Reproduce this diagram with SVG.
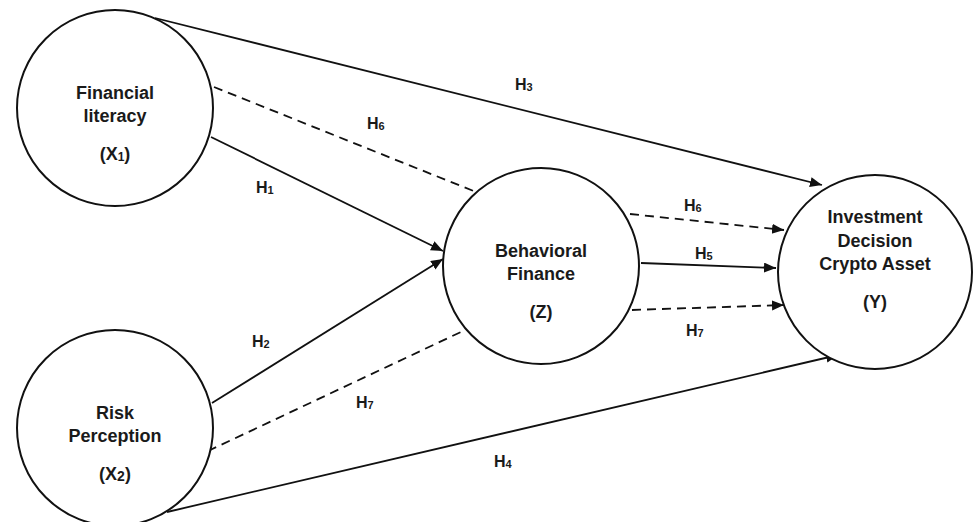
<svg xmlns="http://www.w3.org/2000/svg" width="974" height="522" viewBox="0 0 974 522">
<style>
.node{fill:#fff;stroke:#111;stroke-width:2}
.t{font-family:"Liberation Sans",Arial,sans-serif;font-weight:bold;font-size:18px;fill:#1a1a1a;text-anchor:middle}
.lbl{font-family:"Liberation Sans",Arial,sans-serif;font-weight:bold;font-size:16px;fill:#1a1a1a}
.sub{font-size:11px}
.c{stroke:#111;stroke-width:1.8;fill:none}
.d{stroke-dasharray:9 6}
</style>
<defs>
<marker id="ah" markerUnits="userSpaceOnUse" markerWidth="14" markerHeight="12" refX="12" refY="5" orient="auto">
<path d="M0,0 L12,5 L0,10 Z" fill="#111"/>
</marker>
</defs>
<g id="connectors">
<line class="c" x1="155" y1="18" x2="822" y2="185" marker-end="url(#ah)"/>
<line class="c d" x1="214" y1="87" x2="476" y2="192"/>
<line class="c" x1="211" y1="137" x2="443" y2="251" marker-end="url(#ah)"/>
<line class="c" x1="212" y1="403" x2="443" y2="259" marker-end="url(#ah)"/>
<line class="c d" x1="208" y1="451" x2="463" y2="331"/>
<line class="c" x1="167" y1="512" x2="838" y2="355" marker-end="url(#ah)"/>
<line class="c d" x1="630" y1="214" x2="784" y2="230" marker-end="url(#ah)"/>
<line class="c" x1="641" y1="263" x2="776" y2="268" marker-end="url(#ah)"/>
<line class="c d" x1="632" y1="310" x2="784" y2="305" marker-end="url(#ah)"/>
</g>
<g id="labels">
<text class="lbl" x="515" y="90">H<tspan class="sub" dy="1">3</tspan></text>
<text class="lbl" x="367" y="129">H<tspan class="sub" dy="1">6</tspan></text>
<text class="lbl" x="256" y="193">H<tspan class="sub" dy="1">1</tspan></text>
<text class="lbl" x="252" y="347">H<tspan class="sub" dy="1">2</tspan></text>
<text class="lbl" x="356" y="408">H<tspan class="sub" dy="1">7</tspan></text>
<text class="lbl" x="494" y="467">H<tspan class="sub" dy="1">4</tspan></text>
<text class="lbl" x="684" y="211">H<tspan class="sub" dy="1">6</tspan></text>
<text class="lbl" x="695" y="259">H<tspan class="sub" dy="1">5</tspan></text>
<text class="lbl" x="686" y="336">H<tspan class="sub" dy="1">7</tspan></text>
</g>
<g id="node-x1">
<circle class="node" cx="115" cy="108" r="98"/>
<text class="t" x="115" y="99">Financial</text>
<text class="t" x="115" y="122">literacy</text>
<text class="t" x="115" y="160">(X<tspan font-size="12" dy="1">1</tspan><tspan dy="-1">)</tspan></text>
</g>
<g id="node-x2">
<circle class="node" cx="115" cy="428" r="98"/>
<text class="t" x="115" y="419">Risk</text>
<text class="t" x="115" y="442">Perception</text>
<text class="t" x="115" y="480">(X<tspan font-size="14" dy="1">2</tspan><tspan dy="-1">)</tspan></text>
</g>
<g id="node-z">
<circle class="node" cx="541" cy="266" r="98"/>
<text class="t" x="541" y="257">Behavioral</text>
<text class="t" x="541" y="280">Finance</text>
<text class="t" x="541" y="318">(Z)</text>
</g>
<g id="node-y">
<circle class="node" cx="875" cy="272" r="97"/>
<text class="t" x="875" y="223">Investment</text>
<text class="t" x="875" y="247">Decision</text>
<text class="t" x="875" y="270">Crypto Asset</text>
<text class="t" x="875" y="308">(Y)</text>
</g>
</svg>
